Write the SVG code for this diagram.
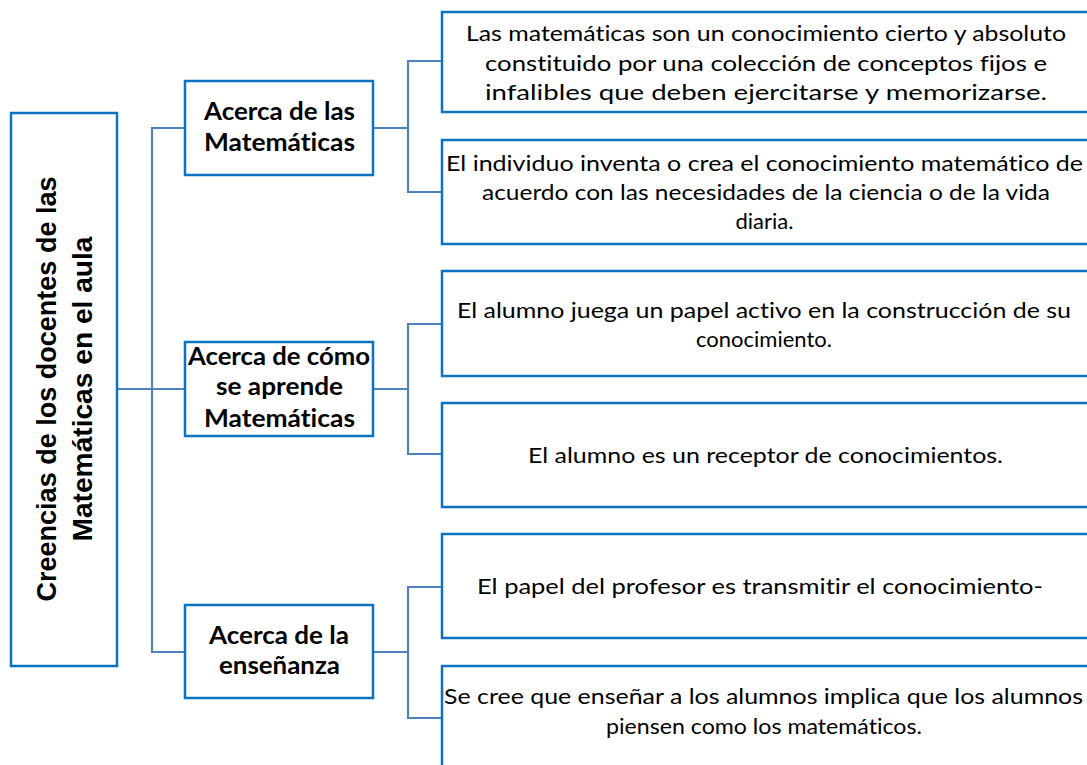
<svg xmlns="http://www.w3.org/2000/svg" width="1087" height="765" viewBox="0 0 1087 765">
<style>
.box{fill:#ffffff;stroke:#0b72c4;stroke-width:2.5}
.conn{fill:none;stroke:#4f81bd;stroke-width:2.2}
.t{font-family:Lato,"Open Sans","Liberation Sans",sans-serif;font-size:22px;fill:#000;text-anchor:middle;font-variant-ligatures:none}
.b{font-family:Lato,"Open Sans","Liberation Sans",sans-serif;font-size:24px;font-weight:bold;fill:#000;text-anchor:middle;font-variant-ligatures:none}
.m{font-family:"Liberation Sans",Arial,sans-serif;font-size:27px;font-weight:bold;fill:#000;text-anchor:middle}
</style>
<rect width="1087" height="765" fill="#ffffff"/>
<g id="connectors">
<path class="conn" d="M117,389 H152"/>
<path class="conn" d="M185,128 H152 V652 H185 M152,389 H185"/>
<path class="conn" d="M373,128 H408 M442,61 H408 V192 H442"/>
<path class="conn" d="M373,389 H408 M442,324 H408 V454 H442"/>
<path class="conn" d="M373,652 H408 M442,587 H408 V718 H442"/>
</g>
<g id="root">
<rect class="box" x="11" y="113" width="106" height="553"/>
<text class="m" transform="translate(56,389) rotate(-90)" x="0" y="0" textLength="425" lengthAdjust="spacingAndGlyphs">Creencias de los docentes de las</text>
<text class="m" transform="translate(92,389) rotate(-90)" x="0" y="0" textLength="305" lengthAdjust="spacingAndGlyphs">Matemáticas en el aula</text>
</g>
<g id="n-matematicas">
<rect class="box" x="185" y="81" width="188" height="94"/>
<text class="b" x="279.5" y="120" textLength="151" lengthAdjust="spacingAndGlyphs">Acerca de las</text>
<text class="b" x="279.5" y="151" textLength="151" lengthAdjust="spacingAndGlyphs">Matemáticas</text>
</g>
<g id="n-aprende">
<rect class="box" x="185" y="342" width="188" height="94"/>
<text class="b" x="279" y="365" textLength="182" lengthAdjust="spacingAndGlyphs">Acerca de cómo</text>
<text class="b" x="279.5" y="395" textLength="127" lengthAdjust="spacingAndGlyphs">se aprende</text>
<text class="b" x="279.5" y="427" textLength="151" lengthAdjust="spacingAndGlyphs">Matemáticas</text>
</g>
<g id="n-ensenanza">
<rect class="box" x="185" y="605" width="188" height="93"/>
<text class="b" x="279" y="644" textLength="140" lengthAdjust="spacingAndGlyphs">Acerca de la</text>
<text class="b" x="279.5" y="674" textLength="121" lengthAdjust="spacingAndGlyphs">enseñanza</text>
</g>
<g id="r1">
<rect class="box" x="442" y="12" width="647" height="100"/>
<text class="t" x="766" y="41" textLength="600" lengthAdjust="spacingAndGlyphs">Las matemáticas son un conocimiento cierto y absoluto</text>
<text class="t" x="766" y="70.5" textLength="562" lengthAdjust="spacingAndGlyphs">constituido por una colección de conceptos  fijos e</text>
<text class="t" x="766" y="100" textLength="562" lengthAdjust="spacingAndGlyphs">infalibles que deben ejercitarse y memorizarse.</text>
</g>
<g id="r2">
<rect class="box" x="442" y="140" width="647" height="104"/>
<text class="t" x="764.5" y="171" textLength="637" lengthAdjust="spacingAndGlyphs">El individuo inventa o crea el conocimiento matemático de</text>
<text class="t" x="766" y="200" textLength="568" lengthAdjust="spacingAndGlyphs">acuerdo con las necesidades de la ciencia o de la vida</text>
<text class="t" x="764.5" y="229">diaria.</text>
</g>
<g id="r3">
<rect class="box" x="442" y="271" width="647" height="105"/>
<text class="t" x="764" y="318" textLength="614" lengthAdjust="spacingAndGlyphs">El alumno juega un papel activo en la construcción de su</text>
<text class="t" x="764" y="347">conocimiento.</text>
</g>
<g id="r4">
<rect class="box" x="442" y="403" width="647" height="104"/>
<text class="t" x="765.5" y="463" textLength="475" lengthAdjust="spacingAndGlyphs">El alumno es un receptor de conocimientos.</text>
</g>
<g id="r5">
<rect class="box" x="442" y="534" width="647" height="104"/>
<text class="t" x="760" y="594" textLength="566" lengthAdjust="spacingAndGlyphs">El papel del profesor es transmitir el conocimiento-</text>
</g>
<g id="r6">
<rect class="box" x="442" y="666" width="647" height="110"/>
<text class="t" x="763.5" y="704" textLength="639" lengthAdjust="spacingAndGlyphs">Se cree que enseñar a los alumnos implica que los alumnos</text>
<text class="t" x="764" y="734" textLength="316" lengthAdjust="spacingAndGlyphs">piensen como los matemáticos.</text>
</g>
</svg>
